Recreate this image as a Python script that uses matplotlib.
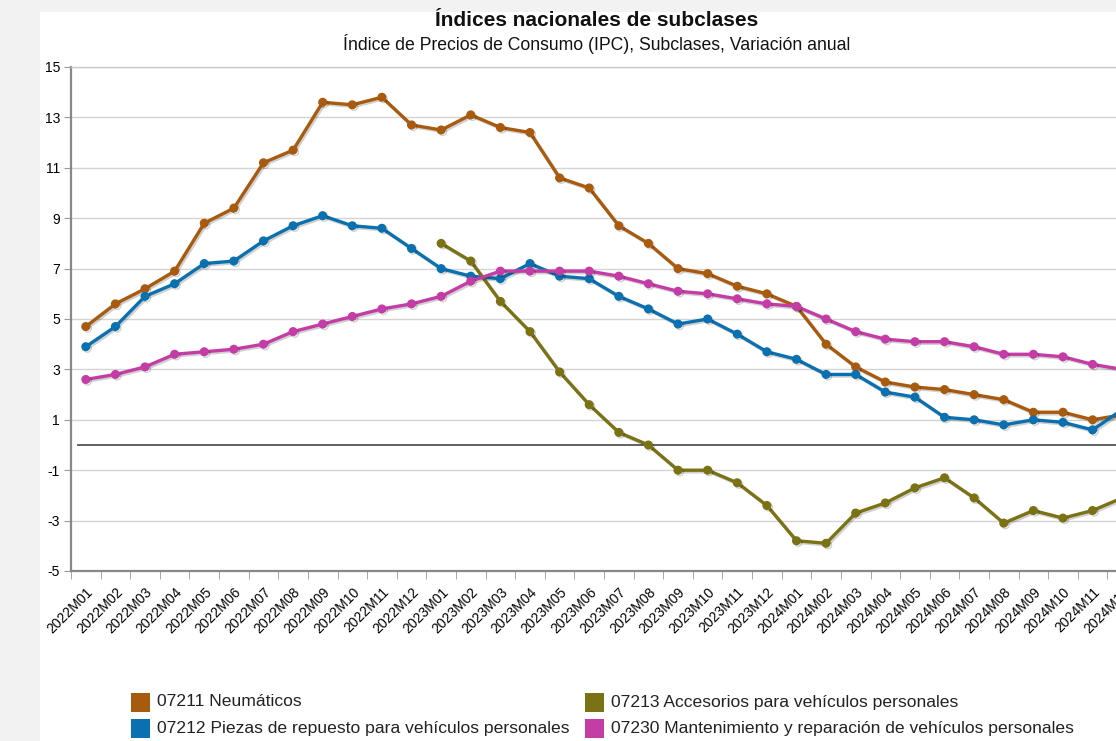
import matplotlib
matplotlib.use("Agg")
import matplotlib.pyplot as plt
import matplotlib.patheffects as pe
from matplotlib.patches import Rectangle
import numpy as np

plt.rcParams['font.family'] = ['Liberation Sans', 'DejaVu Sans']

months = [f"{y}M{m:02d}" for y in (2022, 2023, 2024) for m in range(1, 13)]

neumaticos = [4.7, 5.6, 6.2, 6.9, 8.8, 9.4, 11.2, 11.7, 13.6, 13.5, 13.8, 12.7,
              12.5, 13.1, 12.6, 12.4, 10.6, 10.2, 8.7, 8.0, 7.0, 6.8, 6.3, 6.0,
              5.5, 4.0, 3.1, 2.5, 2.3, 2.2, 2.0, 1.8, 1.3, 1.3, 1.0, 1.2]
piezas = [3.9, 4.7, 5.9, 6.4, 7.2, 7.3, 8.1, 8.7, 9.1, 8.7, 8.6, 7.8,
          7.0, 6.7, 6.6, 7.2, 6.7, 6.6, 5.9, 5.4, 4.8, 5.0, 4.4, 3.7,
          3.4, 2.8, 2.8, 2.1, 1.9, 1.1, 1.0, 0.8, 1.0, 0.9, 0.6, 1.4]
accesorios = [None] * 12 + [8.0, 7.3, 5.7, 4.5, 2.9, 1.6, 0.5, 0.0, -1.0, -1.0, -1.5, -2.4,
                            -3.8, -3.9, -2.7, -2.3, -1.7, -1.3, -2.1, -3.1, -2.6, -2.9, -2.6, -2.1]
mantenimiento = [2.6, 2.8, 3.1, 3.6, 3.7, 3.8, 4.0, 4.5, 4.8, 5.1, 5.4, 5.6,
                 5.9, 6.5, 6.9, 6.9, 6.9, 6.9, 6.7, 6.4, 6.1, 6.0, 5.8, 5.6,
                 5.5, 5.0, 4.5, 4.2, 4.1, 4.1, 3.9, 3.6, 3.6, 3.5, 3.2, 3.0]

series_names = ["07211 Neumáticos",
                "07212 Piezas de repuesto para vehículos personales",
                "07213 Accesorios para vehículos personales",
                "07230 Mantenimiento y reparación de vehículos personales"]
colors = ["#A85A0E", "#0A70B0", "#7A7214", "#C43DA6"]

yticks = [15, 13, 11, 9, 7, 5, 3, 1, -1, -3, -5]

W, H = 1116, 741
fig = plt.figure(figsize=(W / 100, H / 100), dpi=100)
fig.patch.set_facecolor("#f2f2f2")
# white panel
fig.patches.append(Rectangle((40 / W, 0), 1, 1 - 12 / H, transform=fig.transFigure,
                             facecolor="white", edgecolor="none", zorder=-10))

ax = fig.add_axes([71 / W, 1 - 571 / H, 1066 / W, 504 / H])
ax.set_zorder(5)
ax.set_facecolor("white")
x = np.arange(len(months))

shadow = [pe.SimpleLineShadow(offset=(1.2, -1.2), shadow_color="#000000", alpha=0.18), pe.Normal()]
for vals, c in zip([neumaticos, piezas, accesorios, mantenimiento], colors):
    v = np.array([np.nan if a is None else a for a in vals], dtype=float)
    ax.plot(x, v, color=c, lw=2.4, marker="o", ms=5.5, zorder=3, path_effects=shadow,
            solid_joinstyle="round")

ax.set_xlim(-0.5, len(months) - 0.5)
ax.set_ylim(-5, 15)
ax.set_yticks(yticks)
ax.set_yticklabels([str(t) for t in yticks], fontsize=10)
ax.grid(axis="y", color="#d4d4d4", lw=1.0)
ax.set_axisbelow(True)
ax.axhline(0, color="#555555", lw=1.3, zorder=2, xmin=0.007)

ax.set_xticks(x)
ax.set_xticklabels(months, rotation=45, ha="right", rotation_mode="anchor", fontsize=10)
ax.set_xticks(np.arange(len(months) + 1) - 0.5, minor=True)
ax.tick_params(axis="x", which="major", length=0, pad=10)
ax.tick_params(axis="x", which="minor", length=6, color="#999999")
ax.tick_params(axis="y", length=5, color="#999999", pad=3)

for s in ["top", "right"]:
    ax.spines[s].set_color("#cccccc")
    ax.spines[s].set_linewidth(1.0)
for s in ["left", "bottom"]:
    ax.spines[s].set_color("#888888")
    ax.spines[s].set_linewidth(1.6)

fig.text(597 / W, 1 - 20 / H, "Índices nacionales de subclases", ha="center", va="center",
         fontsize=15, fontweight="bold", color="#111111")
fig.text(597 / W, 1 - 44 / H, "Índice de Precios de Consumo (IPC), Subclases, Variación anual",
         ha="center", va="center", fontsize=12.7, color="#111111")

# legend
leg_pos = [(131, 702), (131, 728), (585, 702), (585, 728)]
for (lx, ly), name, c in zip(leg_pos, series_names, colors):
    fig.patches.append(Rectangle((lx / W, 1 - (ly + 9.5) / H), 19 / W, 19 / H,
                                 transform=fig.transFigure, facecolor=c, edgecolor="none"))
    fig.text((lx + 26) / W, 1 - ly / H, name, ha="left", va="center", fontsize=12.6, color="#222222")

fig.savefig("out.png", dpi=100, facecolor=fig.get_facecolor())
